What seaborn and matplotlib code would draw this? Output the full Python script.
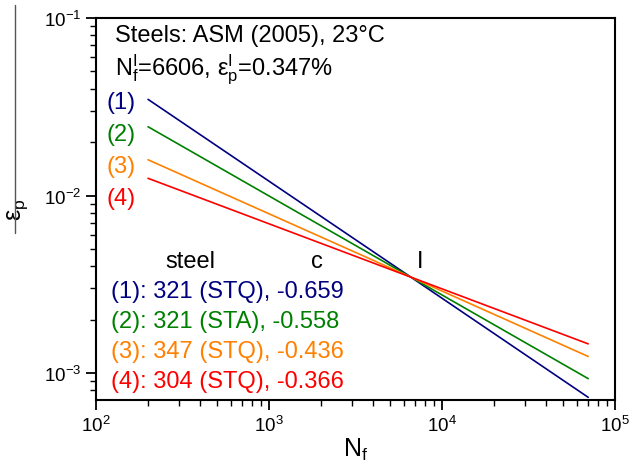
import numpy as np
import matplotlib
matplotlib.use("Agg")
import matplotlib.pyplot as plt
import seaborn as sns
import pandas as pd
from matplotlib.lines import Line2D

sns.set_theme(style="white")
plt.rcParams['font.family'] = ['Liberation Sans', 'DejaVu Sans']
plt.rcParams['mathtext.fontset'] = 'custom'
plt.rcParams['mathtext.rm'] = 'Liberation Sans'
plt.rcParams['mathtext.it'] = 'Liberation Sans:italic'
plt.rcParams['text.color'] = 'black'
plt.rcParams['axes.labelcolor'] = 'black'
plt.rcParams['xtick.color'] = 'black'
plt.rcParams['ytick.color'] = 'black'

# Data: endpoints of each power-law line + intersection point
labels = ["(1)", "(2)", "(3)", "(4)"]
legend_text = ["(1): 321 (STQ), -0.659", "(2): 321 (STA), -0.558",
               "(3): 347 (STQ), -0.436", "(4): 304 (STQ), -0.366"]
colors = ["#000080", "#008000", "#FF8000", "#FF0000"]
N_pts = [200, 6606, 70000]
eps_1 = [0.0348, 0.00347, 0.00073]
eps_2 = [0.0244, 0.00347, 0.00093]
eps_3 = [0.0159, 0.00347, 0.00124]
eps_4 = [0.0125, 0.00347, 0.00146]
series = [eps_1, eps_2, eps_3, eps_4]

rows = []
for lab, ys in zip(labels, series):
    for n, e in zip(N_pts, ys):
        rows.append({"N": n, "eps": e, "steel": lab})
df = pd.DataFrame(rows)

fig = plt.figure(figsize=(6.38, 4.64), dpi=100)
ax = fig.add_axes([96/638, 63/464, (615-96)/638, (401-19)/464])

sns.lineplot(data=df, x="N", y="eps", hue="steel", palette=colors,
             ax=ax, legend=False, linewidth=1.2, sort=True)

ax.set_xscale("log")
ax.set_yscale("log")
ax.set_xlim(1e2, 1e5)
ax.set_ylim(7.05e-4, 1e-1)

for s in ax.spines.values():
    s.set_color("black")
    s.set_linewidth(1.5)
    s.set_visible(True)

ax.tick_params(axis="both", which="major", direction="out", length=7, width=1.3,
               labelsize=13.5, color="black", bottom=True, left=True, top=False, right=False)
ax.tick_params(axis="both", which="minor", direction="out", length=4, width=1.0,
               color="black", bottom=True, left=True, top=False, right=False)
ax.xaxis.set_major_locator(matplotlib.ticker.LogLocator(base=10, numticks=10))
ax.xaxis.set_minor_locator(matplotlib.ticker.LogLocator(base=10, subs=np.arange(2, 10), numticks=20))
ax.yaxis.set_minor_locator(matplotlib.ticker.LogLocator(base=10, subs=np.arange(2, 10), numticks=20))
ax.xaxis.set_minor_formatter(matplotlib.ticker.NullFormatter())
ax.yaxis.set_minor_formatter(matplotlib.ticker.NullFormatter())

ax.set_xlabel(r"N$_\mathrm{f}$", fontsize=18, labelpad=1)
ax.set_ylabel(r"ε$_\mathrm{p}$", fontsize=18, labelpad=10)

fig.add_artist(Line2D([15/638, 15/638], [1-6/464, 1-234/464], color="#555555", linewidth=1.0))

def px(x, y):
    return (x/638, 1 - y/464)

fig.text(*px(115, 36), "Steels: ASM (2005), 23°C", fontsize=17, va="center", ha="left")
fig.text(*px(115, 70), r"N$_\mathrm{f}^\mathrm{I}$=6606, ε$_\mathrm{p}^\mathrm{I}$=0.347%",
         fontsize=17, va="center", ha="left")
for i, (lab, c) in enumerate(zip(labels, colors)):
    fig.text(*px(107, 103 + 32*i), lab, fontsize=17, color=c, va="center", ha="left")
fig.text(*px(190, 262), "steel", fontsize=17, va="center", ha="center")
fig.text(*px(317, 262), "c", fontsize=17, va="center", ha="center")
fig.text(*px(420, 262), "I", fontsize=17, va="center", ha="center")
for i, (t, c) in enumerate(zip(legend_text, colors)):
    fig.text(*px(111, 292 + 30*i), t, fontsize=17, color=c, va="center", ha="left")

fig.savefig("out.png", dpi=100)
